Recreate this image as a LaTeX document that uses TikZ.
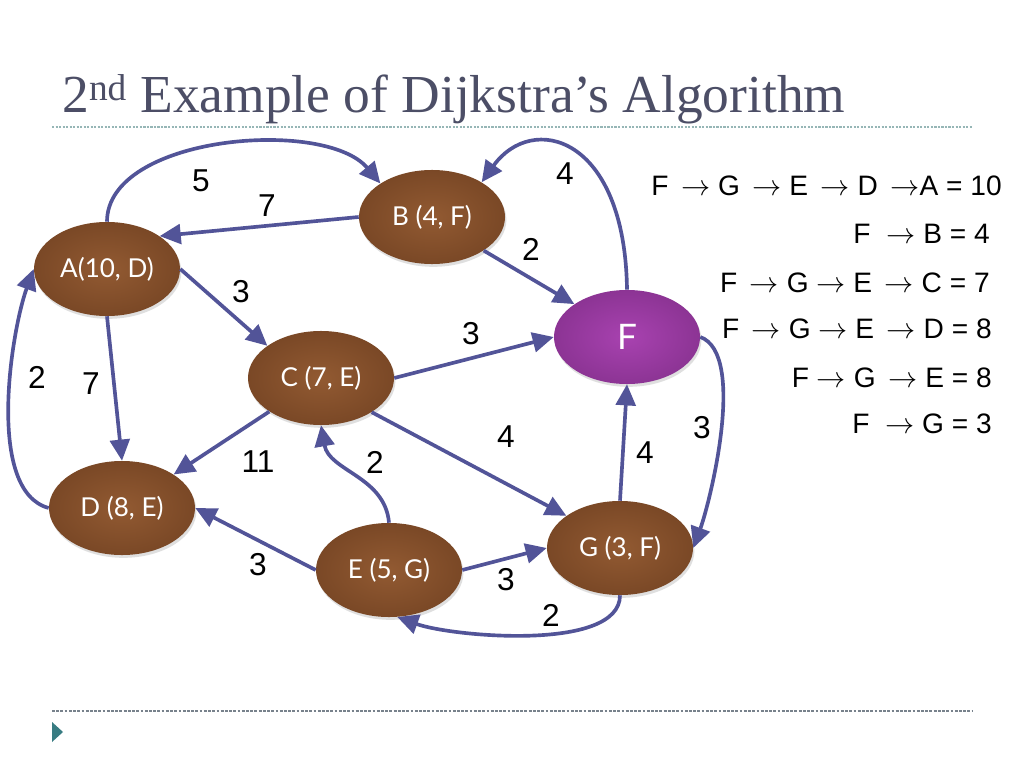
\documentclass[tikz,border=0pt]{standalone}
\usepackage{fontspec}
\setmainfont{Liberation Sans}
\newfontfamily\gillfont{Lato}
\newfontfamily\titlefont{Liberation Serif}
\usetikzlibrary{arrows.meta,shapes.geometric,shadows}
\definecolor{edgeblue}{RGB}{82,84,152}
\definecolor{nodebrown}{RGB}{146,90,50}
\definecolor{darkbrown}{RGB}{122,72,38}
\definecolor{nodepurple}{RGB}{168,66,176}
\definecolor{darkpurple}{RGB}{140,52,148}
\definecolor{titlegray}{RGB}{76,78,102}
\definecolor{ruleteal}{RGB}{150,182,182}
\definecolor{rulegray}{RGB}{120,130,140}
\definecolor{bullteal}{RGB}{56,124,130}

\begin{document}
\begin{tikzpicture}[x=0.025cm, y=0.025cm,
  vertex/.style={ellipse, minimum width=3.65cm, minimum height=2.35cm, inner sep=0pt,
    inner color=nodebrown, outer color=darkbrown, text=white,
    font=\gillfont\fontsize{18.5}{22}\selectfont,
    drop shadow={opacity=0.25, shadow xshift=1pt, shadow yshift=-2pt}},
  source/.style={vertex, inner color=nodepurple, outer color=darkpurple,
    font=\gillfont\fontsize{25}{30}\selectfont},
  road/.style={draw=edgeblue, line width=2.6pt, -{Triangle[length=15pt, width=14pt]}},
  wlabel/.style={font=\fontsize{22.5}{26}\selectfont},
  pathline/.style={anchor=base east, inner sep=0pt, font=\fontsize{20}{24}\selectfont}]
  \fill[white] (0,0) rectangle (1024,-768);
  \useasboundingbox (0,0) rectangle (1024,-768);

  \node[anchor=base west, inner sep=0pt, text=titlegray, font=\titlefont\fontsize{38}{44}\selectfont] (title) at (62,-113) {2\textsuperscript{nd} Example of Dijkstra’s Algorithm};
  \draw[ruleteal, line width=1pt, dash pattern=on 1.5pt off 1pt] (52,-127) -- (972,-127);
  \draw[rulegray, line width=0.8pt, dash pattern=on 2pt off 1pt] (52,-711) -- (972,-711);
  \fill[bullteal] (52,-722) -- (63,-732) -- (52,-742) -- cycle;

  \node[vertex] (A) at (107,-269) {A(10, D)};
  \node[vertex] (B) at (432,-217) {B (4, F)};
  \node[vertex] (C) at (321,-378) {C (7, E)};
  \node[vertex] (D) at (122,-508) {D (8, E)};
  \node[vertex] (E) at (389,-570) {E (5, G)};
  \node[vertex] (G) at (620,-548) {G (3, F)};
  \node[source] (F) at (627,-337) {F};

  \draw[road] (A.north) to[out=90, in=130, looseness=0.8] (B.147);
  \draw[road] (B.west) -- (A.32);
  \draw[road] (A.east) -- (C.149);
  \draw[road] (A.south) -- (D.north);
  \draw[road] (D.west) to[out=165, in=250, looseness=0.7] (A.west);
  \draw[road] (C.213) -- (D.33);
  \draw[road] (C.east) -- (F.west);
  \draw[road] (C.-34) -- (G.149);
  \draw[road] (E.north) to[out=95, in=-80] (C.south);
  \draw[road] (E.west) -- (D.east);
  \draw[road] (E.east) -- (G.west);
  \draw[road] (G.south) to[out=-90, in=-20, looseness=0.65] (E.-80);
  \draw[road] (G.north) -- (F.south);
  \draw[road] (F.east) to[out=-20, in=70, looseness=0.6] (G.east);
  \draw[road] (F.north) .. controls (625,-135) and (532,-112) .. (B.35);
  \draw[road] (B.-33) -- (F.148);

  \node[wlabel] (wab) at (201,-181) {5};
  \node[wlabel] (wba) at (267,-206) {7};
  \node[wlabel] (wac) at (241,-292) {3};
  \node[wlabel] (wad) at (91,-384) {7};
  \node[wlabel] (wda) at (37,-377) {2};
  \node[wlabel] (wcd) at (258,-462) {11};
  \node[wlabel] (wcf) at (471,-334) {3};
  \node[wlabel] (wcg) at (506,-437) {4};
  \node[wlabel] (wec) at (375,-462) {2};
  \node[wlabel] (wed) at (258,-565) {3};
  \node[wlabel] (weg) at (506,-580) {3};
  \node[wlabel] (wge) at (551,-615) {2};
  \node[wlabel] (wgf) at (645,-453) {4};
  \node[wlabel] (wfg) at (702,-428) {3};
  \node[wlabel] (wfb) at (565,-174) {4};
  \node[wlabel] (wbf) at (531,-249) {2};

  \node[pathline] (p1) at (1002,-195) {F\ \,$\rightarrow$ G\ \,$\rightarrow$ E\ \,$\rightarrow$ D\ \,$\rightarrow$A = 10};
  \node[pathline] (p2) at (990,-243) {F~~$\rightarrow$ B = 4};
  \node[pathline] (p3) at (990,-292) {F\ \,$\rightarrow$ G $\rightarrow$ E\ \,$\rightarrow$ C = 7};
  \node[pathline] (p4) at (992,-338) {F\ \,$\rightarrow$ G $\rightarrow$ E\ \,$\rightarrow$ D = 8};
  \node[pathline] (p5) at (992,-387) {F $\rightarrow$ G\ \,$\rightarrow$ E = 8};
  \node[pathline] (p6) at (992,-433) {F~~$\rightarrow$ G = 3};
\end{tikzpicture}
\end{document}
